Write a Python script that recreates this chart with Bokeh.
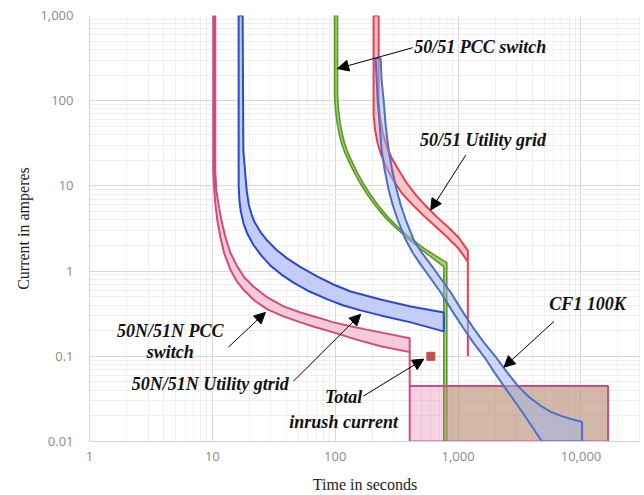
from bokeh.plotting import figure
from bokeh.models import FixedTicker, NumeralTickFormatter, Arrow, NormalHead, Label
from bokeh.embed import file_html
from bokeh.resources import INLINE

# ---- Axis ticks -------------------------------------------------------
time_ticks = [1, 10, 100, 1000, 10000]
current_ticks = [0.01, 0.1, 1, 10, 100, 1000]

# ---- 50N/51N PCC switch (time in s, current in A) ----------------------
pcc_n_outer_t = [10.17, 10.17, 10.36, 10.56, 10.96, 11.60, 12.51, 14.00, 15.66, 17.87,
                 21.97, 28.04, 37.87, 52.12, 69.09, 96.85, 146.4, 234.1, 403.6]
pcc_n_outer_i = [1000, 15.34, 8.96, 6.31, 4.00, 2.53, 1.601, 1.041, 0.774, 0.608,
                 0.452, 0.355, 0.294, 0.250, 0.219, 0.191, 0.158, 0.131, 0.112]
pcc_n_inner_t = [10.56, 10.56, 10.76, 11.17, 11.82, 12.74, 14.00, 15.96, 18.21, 21.56,
                 28.04, 37.87, 52.12, 71.73, 96.85, 133.3, 176.7, 234.1, 403.6]
pcc_n_inner_i = [1000, 15.34, 8.96, 6.31, 4.00, 2.53, 1.645, 1.129, 0.840, 0.659,
                 0.490, 0.385, 0.327, 0.286, 0.250, 0.225, 0.207, 0.191, 0.163]
# definite-time region of the PCC ground relay
pcc_n_box_t = [403.6, 16600]
pcc_n_box_i = [0.01, 0.0448]

# ---- 50N/51N Utility grid ----------------------------------------------
util_n_outer_t = [16.36, 16.36, 16.58, 17.05, 17.97, 19.27, 21.56, 25.05, 29.67, 36.48,
                  45.70, 61.71, 86.51, 116.8, 160.9, 234.1, 411.3, 764.3]
util_n_outer_i = [1000, 10.24, 6.84, 4.96, 3.59, 2.74, 2.04, 1.517, 1.160, 0.910,
                  0.734, 0.576, 0.465, 0.395, 0.346, 0.302, 0.250, 0.196]
util_n_inner_t = [17.63, 17.87, 18.55, 19.08, 19.81, 20.77, 21.97, 24.58, 28.04, 33.20,
                  40.82, 53.11, 71.73, 96.85, 133.3, 176.7, 234.1, 411.3, 764.3]
util_n_inner_i = [1000, 26.27, 13.41, 8.49, 5.98, 4.70, 3.79, 2.89, 2.27, 1.783,
                  1.400, 1.099, 0.862, 0.696, 0.576, 0.517, 0.465, 0.385, 0.327]

# ---- 50/51 Utility grid ------------------------------------------------
util_upper_t = [225.5, 225.5, 232.0, 243.1, 262.0, 287.9, 328.3, 381.5, 451.9, 545.2,
                670.4, 839.9, 1013, 1200]
util_upper_i = [1000, 100.8, 62.1, 42.6, 29.25, 21.18, 15.34, 10.81, 7.83, 5.82,
                4.33, 3.22, 2.46, 1.736]
util_lower_t = [205.3, 205.3, 211.2, 221.3, 238.6, 262.0, 298.9, 347.3, 419.2, 515.4,
                645.7, 808.8, 994.5, 1200]
util_lower_i = [1000, 67.3, 44.98, 31.71, 22.36, 16.19, 11.41, 8.26, 6.15, 4.57,
                3.40, 2.53, 1.882, 1.291]
util_floor_i = 0.1

# ---- 50/51 PCC switch --------------------------------------------------
pcc_left_t = [98.7, 98.7, 100.6, 103.4, 107.4, 112.6, 120.2, 130.8, 143.7, 160.9,
              183.4, 213.2, 252.5, 304.6, 374.5, 478.0, 598.8, 764.3, 764.3]
pcc_left_i = [1000, 115.3, 77.0, 55.8, 41.5, 31.71, 24.23, 18.51, 14.15, 10.52,
              7.83, 5.82, 4.33, 3.31, 2.53, 1.882, 1.477, 1.129, 0.01]
pcc_right_t = [104.4, 104.4, 106.4, 109.4, 113.6, 119.1, 127.2, 138.4, 152.0, 170.2,
               194.1, 225.5, 267.1, 322.3, 396.2, 505.7, 633.6, 808.8, 808.8]
pcc_right_i = [1000, 115.3, 77.0, 55.8, 41.5, 31.71, 24.23, 18.51, 14.15, 10.52,
               7.83, 5.82, 4.33, 3.31, 2.53, 1.933, 1.559, 1.257, 0.01]
pcc_box_t = [790, 16600]

# ---- CF1 100K fuse -----------------------------------------------------
cf1_left_t = [213.2, 217.3, 221.3, 229.8, 238.6, 252.5, 272.1, 293.4, 322.3, 374.5, 427.1,
              496.4, 598.8, 722.6, 888.4, 1092, 1343, 1682, 1992, 2359, 3371, 4816]
cf1_left_i = [312.0, 172.7, 100.8, 51.4, 26.27, 15.34, 8.96, 5.98, 4.00, 2.333, 1.645,
              1.191, 0.818, 0.561, 0.346, 0.219, 0.142, 0.0925, 0.0635, 0.0447, 0.0216, 0.01]
cf1_right_t = [234.1, 238.6, 247.7, 257.3, 272.1, 290.6, 316.2, 340.9, 374.5, 435.2, 505.7,
               598.8, 722.6, 871.9, 1072, 1318, 1620, 2030, 2496, 3069, 3773, 4727, 5704,
               6882, 8303, 10210, 10210]
cf1_right_i = [312.0, 172.7, 100.8, 51.4, 26.27, 15.34, 8.96, 5.98, 4.00, 2.333, 1.645,
               1.191, 0.818, 0.561, 0.346, 0.219, 0.146, 0.0976, 0.0652, 0.0447, 0.0333,
               0.0261, 0.0222, 0.0200, 0.0184, 0.0170, 0.01]

# ---- Total inrush current ----------------------------------------------
inrush_t = [600]
inrush_i = [0.1]

PINK = "#d34b7e"
BLUE = "#2a47d8"
RED = "#ee3d4c"
GREEN = "#5c9a24"
STEEL = "#4b70cc"

p = figure(width=644, height=495, x_axis_type="log", y_axis_type="log",
           x_range=(1, 30500), y_range=(0.01, 1000),
           output_backend="svg", toolbar_location=None,
           min_border_left=89, min_border_right=4,
           min_border_top=15, min_border_bottom=52)
p.outline_line_color = None
p.background_fill_color = "white"
p.border_fill_color = "white"


def minor(ticks, upto):
    out = []
    for t in ticks:
        for k in range(2, 10):
            v = t * k
            if v < upto:
                out.append(v)
    return out


p.xaxis.ticker = FixedTicker(ticks=time_ticks, minor_ticks=minor(time_ticks, 30500))
p.yaxis.ticker = FixedTicker(ticks=current_ticks, minor_ticks=minor(current_ticks[:-1], 1000))
for ax in (p.xaxis, p.yaxis):
    ax.formatter = NumeralTickFormatter(format="0,0.[00]")
    ax.major_tick_in = 0
    ax.major_tick_out = 0
    ax.minor_tick_in = 0
    ax.minor_tick_out = 0
    ax.axis_line_color = "#cbd3e4"
    ax.major_label_text_font = "Open Sans"
    ax.major_label_text_font_size = "13px"
    ax.major_label_text_color = "#8a8a8a"
    ax.axis_label_text_font = "Liberation Serif"
    ax.axis_label_text_font_size = "16px"
    ax.axis_label_text_font_style = "normal"
    ax.axis_label_text_color = "#222222"

p.xaxis.axis_label = "Time in seconds"
p.yaxis.axis_label = "Current in amperes"
p.xaxis.major_label_standoff = 10
p.xaxis.axis_label_standoff = 12
p.yaxis.major_label_standoff = 16
p.yaxis.axis_label_standoff = 5

for g in (p.xgrid, p.ygrid):
    g.grid_line_color = "#d8d8d8"
    g.minor_grid_line_color = "#eeeeee"

# green PCC overcurrent band (drawn first so the ground box shades it)
p.patch(pcc_left_t + pcc_right_t[::-1], pcc_left_i + pcc_right_i[::-1],
        fill_color="#8ec35c", fill_alpha=0.8, line_color=GREEN, line_width=1.6)

# definite-time areas
p.quad(left=pcc_box_t[0], right=pcc_box_t[1], bottom=pcc_n_box_i[0], top=pcc_n_box_i[1],
       fill_color="#8fae55", fill_alpha=0.45, line_color=None)
p.quad(left=pcc_n_box_t[0], right=pcc_n_box_t[1], bottom=pcc_n_box_i[0], top=pcc_n_box_i[1],
       fill_color="#e46a98", fill_alpha=0.3, line_color=PINK, line_width=2)

# 50N/51N PCC switch band
p.patch(pcc_n_outer_t + pcc_n_inner_t[::-1], pcc_n_outer_i + pcc_n_inner_i[::-1],
        fill_color="#f2bdd0", fill_alpha=0.8, line_color=PINK, line_width=2)
p.line([pcc_n_outer_t[-1], pcc_n_outer_t[-1]], [pcc_n_outer_i[-1], pcc_n_box_i[1]],
       line_color=PINK, line_width=2)

# 50N/51N Utility grid band
p.patch(util_n_outer_t + util_n_inner_t[::-1], util_n_outer_i + util_n_inner_i[::-1],
        fill_color="#bcc8f4", fill_alpha=0.9, line_color=BLUE, line_width=2)

# 50/51 Utility grid band
p.patch(util_lower_t + util_upper_t[::-1], util_lower_i + util_upper_i[::-1],
        fill_color="#f8c0c6", fill_alpha=0.9, line_color=RED, line_width=2)
p.line([util_lower_t[-1], util_lower_t[-1]], [util_lower_i[-1], util_floor_i],
       line_color=RED, line_width=2)

# CF1 100K fuse band
p.patch(cf1_left_t + cf1_right_t[::-1], cf1_left_i + cf1_right_i[::-1],
        fill_color="#9fb4ea", fill_alpha=0.5, line_color=STEEL, line_width=2)

# total inrush current point
p.scatter(inrush_t, inrush_i, marker="square", size=8, color="#c0504d")

# ---- annotations -------------------------------------------------------
LABEL_FONT = dict(text_font="Liberation Serif", text_font_size="18px",
                  text_font_style="bold italic", text_color="#111111")

labels = [
    ("50/51 PCC switch", 440, 431, "left"),
    ("50/51 Utility grid", 490, 34.4, "left"),
    ("50N/51N PCC", 4.54, 0.196, "center"),
    ("switch", 4.54, 0.112, "center"),
    ("50N/51N Utility gtrid", 9.6, 0.0472, "center"),
    ("Total", 117, 0.0333, "center"),
    ("inrush current", 117, 0.0170, "center"),
    ("CF1 100K", 11300, 0.406, "center"),
]
for txt, lx, ly, align in labels:
    p.add_layout(Label(x=lx, y=ly, text=txt, text_align=align,
                       text_baseline="middle", **LABEL_FONT))

arrows = [
    (427, 419, 104.5, 238),
    (1155, 23.0, 599, 5.22),
    (13.5, 0.128, 27.0, 0.327),
    (45.7, 0.0511, 161, 0.311),
    (170, 0.0342, 525, 0.0925),
    (6030, 0.257, 2360, 0.0746),
]
for x0, y0, x1, y1 in arrows:
    p.add_layout(Arrow(end=NormalHead(size=11, fill_color="black", line_color="black"),
                       x_start=x0, y_start=y0, x_end=x1, y_end=y1,
                       line_color="black", line_width=1))

open("out.html", "w").write(file_html(p, INLINE))
